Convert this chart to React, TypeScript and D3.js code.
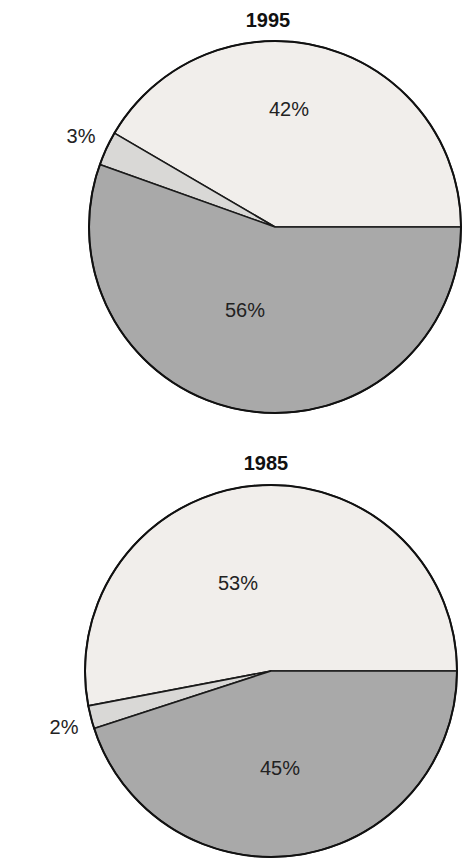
import React from "react";
import * as d3 from "d3";

const years = ["1995", "1985"];
const categories = ["A", "B", "C"];
const values1995 = [42, 3, 56];
const values1985 = [53, 2, 45];
const labels1995 = ["42%", "3%", "56%"];
const labels1985 = ["53%", "2%", "45%"];
const colors = ["#f1eeeb", "#d9d8d6", "#a9a9a9"];

type PieSpec = {
  year: string;
  values: number[];
  labels: string[];
  cx: number;
  cy: number;
  r: number;
  titleX: number;
  titleY: number;
  labelPos: [number, number][];
};

const specs: PieSpec[] = [
  {
    year: years[0],
    values: values1995,
    labels: labels1995,
    cx: 275,
    cy: 227,
    r: 186,
    titleX: 268,
    titleY: 27,
    labelPos: [
      [289, 116],
      [81, 143],
      [245, 317],
    ],
  },
  {
    year: years[1],
    values: values1985,
    labels: labels1985,
    cx: 271,
    cy: 671,
    r: 186,
    titleX: 266,
    titleY: 470,
    labelPos: [
      [238, 590],
      [64, 734],
      [280, 775],
    ],
  },
];

function Pie({ spec }: { spec: PieSpec }) {
  const pie = d3
    .pie<number>()
    .sort(null)
    .value((d) => d)
    .startAngle(Math.PI / 2)
    .endAngle(Math.PI / 2 - 2 * Math.PI);
  const arcs = pie(spec.values);
  const arc = d3.arc<d3.PieArcDatum<number>>().innerRadius(0).outerRadius(spec.r);
  return (
    <g>
      <text
        x={spec.titleX}
        y={spec.titleY}
        textAnchor="middle"
        fontFamily="'Liberation Sans', Arial, sans-serif"
        fontWeight="bold"
        fontSize={20}
        fill="#111"
      >
        {spec.year}
      </text>
      <g transform={`translate(${spec.cx},${spec.cy})`}>
        {arcs.map((a, i) => (
          <path
            key={categories[i]}
            d={arc(a) || ""}
            fill={colors[i]}
            stroke="#1a1a1a"
            strokeWidth={1.6}
            strokeLinejoin="round"
          />
        ))}
        <circle r={spec.r} fill="none" stroke="#111" strokeWidth={2} />
      </g>
      {spec.labels.map((l, i) => (
        <text
          key={l}
          x={spec.labelPos[i][0]}
          y={spec.labelPos[i][1]}
          textAnchor="middle"
          fontFamily="'Liberation Sans', Arial, sans-serif"
          fontSize={20}
          fill="#222"
        >
          {l}
        </text>
      ))}
    </g>
  );
}

export default function App() {
  return (
    <svg
      width={465}
      height={859}
      style={{ position: "absolute", left: 0, top: 0, background: "#fff" }}
    >
      <rect width={465} height={859} fill="#fff" />
      {specs.map((s) => (
        <Pie key={s.year} spec={s} />
      ))}
    </svg>
  );
}
